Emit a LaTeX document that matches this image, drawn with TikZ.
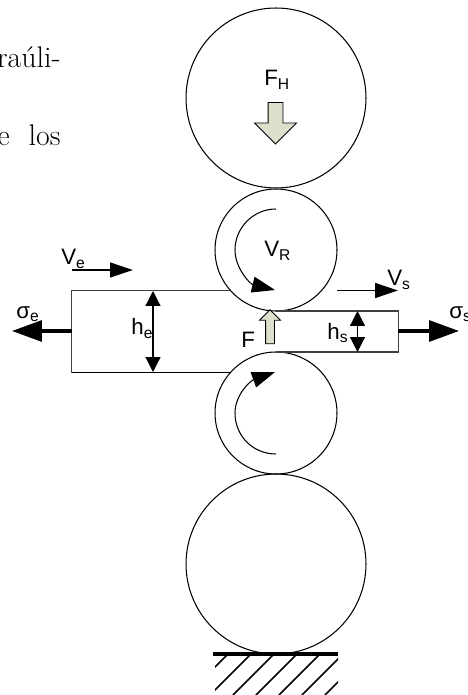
\documentclass[tikz,border=0pt]{standalone}
\usepackage{xcolor}
\usepackage{fontspec}
\usepackage{tikz}
\usetikzlibrary{shapes.geometric, shapes.arrows, arrows.meta}
\newfontfamily\labelfont{Liberation Sans}
\definecolor{arrowfill}{HTML}{DDE0CC}
\tikzstyle{roll} = [circle, draw=black, line width=0.6pt, inner sep=0pt, outer sep=0pt]
\tikzstyle{bigroll} = [roll, minimum size=3.6cm]
\tikzstyle{smallroll} = [roll, minimum size=2.44cm]
\tikzstyle{label} = [anchor=base west, inner sep=0pt, font=\labelfont\fontsize{12.7}{14}\selectfont]
\tikzstyle{bodytext} = [anchor=base east, inner sep=0pt, font=\fontsize{17}{20}\selectfont]
\tikzstyle{force} = [single arrow, draw=black, line width=0.5pt, fill=arrowfill, shape border rotate=270]
\tikzstyle{strip} = [line width=0.7pt, draw=black!75]
\tikzstyle{arrow} = [line width=0.7pt, -{Triangle[length=0.46cm, width=0.3cm]}]
\tikzstyle{dimarrow} = [line width=0.7pt, {Triangle[length=0.3cm, width=0.3cm]}-{Triangle[length=0.3cm, width=0.3cm]}]
\tikzstyle{pull} = [line width=1.8pt, -{Triangle[length=0.6cm, width=0.42cm]}]
\tikzstyle{turn} = [line width=0.6pt, -{Triangle[length=0.46cm, width=0.32cm]}]

\begin{document}
\begin{tikzpicture}[x=0.02cm, y=-0.02cm]
    \useasboundingbox (0,0) rectangle (467,695);

    % Text
    \node (linea) [bodytext] at (61,68) {raúli-};
    \node (lineb) [bodytext] at (61,146) {e\hspace{5.7pt} los};

    % Rolls
    \node (top) [bigroll] at (276,98) {};
    \node (upper) [smallroll] at (276,250) {};
    \node (lower) [smallroll] at (276,413) {};
    \node (bottom) [bigroll] at (276,564) {};

    % Strip
    \coordinate (tl) at (71.7,290.5);
    \coordinate (tr) at (230,290.5);
    \coordinate (bl) at (71.7,372.5);
    \coordinate (br) at (230,372.5);
    \coordinate (ql) at (276,311);
    \coordinate (qr) at (398.5,311);
    \coordinate (pl) at (276,352);
    \coordinate (pr) at (398.5,352);
    \draw [strip] (tr) -- (tl) -- (bl);
    \draw [line width=0.6pt] (bl) -- (br);
    \draw [strip] (ql) -- (qr) -- (pr) -- (pl);

    % Forces
    \node (fh) [force, inner sep=0.14cm, minimum height=0.83cm, single arrow head extend=0.27cm] at (275.5,119.5) {};
    \node (f) [force, shape border rotate=90, inner sep=0.08cm, minimum height=0.68cm, single arrow head extend=0.12cm] at (270,329) {};

    % Labels
    \node (fhlabel) [label] at (264,86) {F\textsubscript{H}};
    \node (vr) [label] at (264,257) {V\textsubscript{R}};
    \node (ve) [label] at (61,265) {V\textsubscript{e}};
    \node (vs) [label] at (387,286) {V\textsubscript{s}};
    \node (flabel) [label] at (241,347) {F};
    \node (he) [label] at (131,335) {h\textsubscript{e}};
    \node (hs) [label] at (327,339) {h\textsubscript{s}};
    \node (se) [label] at (16,318) {σ\textsubscript{e}};
    \node (ss) [label] at (449,318) {σ\textsubscript{s}};

    % Arrows
    \coordinate (vea) at (72,270);
    \coordinate (veb) at (133,270);
    \coordinate (vsa) at (337,290.5);
    \coordinate (vsb) at (398,290.5);
    \coordinate (sea) at (72,331);
    \coordinate (seb) at (12,331);
    \coordinate (ssa) at (398,331);
    \coordinate (ssb) at (459,331);
    \coordinate (hea) at (153,291);
    \coordinate (heb) at (153,372);
    \coordinate (hsa) at (357.5,311);
    \coordinate (hsb) at (357.5,352);
    \draw [arrow] (vea) -- (veb);
    \draw [arrow] (vsa) -- (vsb);
    \draw [pull] (sea) -- (seb);
    \draw [pull] (ssa) -- (ssb);
    \draw [dimarrow] (hea) -- (heb);
    \draw [dimarrow] (hsa) -- (hsb);
    \draw [turn] (276,209) .. controls (253,209) and (235,228) .. (235,250) .. controls (235,268) and (250,284) .. (275,290);
    \draw [turn] (276,454) .. controls (253,454) and (235,436) .. (235,413) .. controls (235,395) and (250,381) .. (275,372);

    % Ground
    \coordinate (ga) at (213,654);
    \coordinate (gb) at (338,654);
    \draw [line width=1.8pt] (ga) -- (gb);
    \begin{scope}
        \clip (215,655) rectangle (338,695);
        \foreach \k in {0,...,6} {
            \draw [line width=0.9pt] (227+23*\k,655) -- (187+23*\k,695);
        }
    \end{scope}
\end{tikzpicture}
\end{document}
